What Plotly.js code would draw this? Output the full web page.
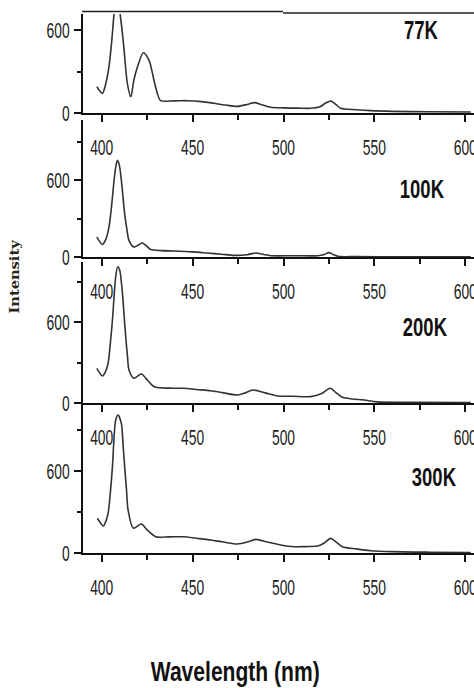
<!DOCTYPE html>
<html><head><meta charset="utf-8">
<script src="https://cdn.plot.ly/plotly-3.0.1.min.js"></script>
<style>html,body{margin:0;padding:0;background:#fff}</style>
</head><body><div id="chart" style="width:474px;height:688px"></div>
<script>
// ---- data ----
const wl77 = [397.3,400.4,402,404,405.5,406.8,408.5,410,411.2,412.3,414.1,416,417.7,420,422.9,426,428.7,430.6,432.4,440,447,455,461.7,468,474.7,480,483.9,488,493,500,508,515,520,523,526,529,531.5,540,548,560,580,603];
const int77 = [190,142,200,335,520,720,920,730,600,455,215,118,239,347,436,383,239,142,89,88,89,82,70,58,48,62,75,60,41,37,35,34,45,70,87,60,34,24,17,12,9,7];

const wl100 = [397.3,400.4,402.3,404,405.5,406.8,407.8,408.6,409.5,410.4,411.5,412.6,413.8,415,417.7,420,422.3,424.5,427,433,439.7,450,458,466,472.5,480,484.8,489,493,505,519,522.5,525,527.5,530,540,560,603];
const int100 = [156,99,140,235,410,600,710,756,730,652,500,339,220,130,78,92,110,88,58,50,47,40,31,22,13,18,31,20,10,10,10,20,34,18,5,3,2,2];

const wl200 = [397.3,400.4,402,403.5,405,405.9,407.7,408.8,409.8,411.4,412.3,413.2,414.2,415,417.7,421.8,425.1,427.5,429.7,437,445.2,452,459.9,467,474.7,479,483,490,496.7,505,515,521,525.6,529,532.4,538,544.3,551.6,570,603];
const int200 = [257,200,230,294,480,615,936,1010,990,813,650,491,340,244,183,215,170,135,116,110,109,100,91,75,59,75,96,75,52,50,47,70,109,75,42,30,22,8,5,3];

const wl300 = [397.6,400.9,402.2,403.5,404.8,405.9,407.7,409,410.8,411.7,412.6,413.6,414.5,417.4,421.8,425.1,429.7,437,445.2,452,459.9,467,474.7,480,484.8,491,498.5,505.9,512,518.7,522,526,529,532.4,540,548,560,580,603];
const int300 = [254,198,230,290,450,632,974,1010,949,800,632,470,315,181,212,168,119,118,119,108,95,80,66,80,100,80,59,46,47,51,70,107,80,46,30,17,10,6,4];

const panelLabels = ["77K","100K","200K","300K"];
const labelX = [575.5, 576, 577.7, 582.6];
const labelY = [600, 529, 563, 556];
const yTops = [716, 1071, 1045, 1083];
const xTitle = "Wavelength (nm)";
const yTitle = "Intensity";

// ---- layout helpers ----
const W = 474, H = 688;
const boxes = [[14,113],[120,257],[262,403],[405,553]]; // pixel top/bottom
const series = [[wl77,int77],[wl100,int100],[wl200,int200],[wl300,int300]];
const sans = "'Liberation Sans',Arial,sans-serif";
const tickFont = {family:sans, size:22, color:'#222'};
const labFont = {family:sans, size:25, color:'#111', weight:'bold'};

const data = [];
const layout = {
  width: W, height: H,
  margin: {l:0, r:0, t:0, b:0},
  paper_bgcolor: '#fff', plot_bgcolor: 'rgba(0,0,0,0)',
  showlegend: false,
  annotations: [], shapes: []
};

series.forEach((s, i) => {
  const n = i === 0 ? '' : String(i+1);
  data.push({
    x: s[0], y: s[1], type: 'scatter', mode: 'lines',
    xaxis: 'x' + n, yaxis: 'y' + n,
    line: {color:'#333', width:1.6, shape:'spline', smoothing:0.8},
    hoverinfo: 'skip'
  });
  const [top, bot] = boxes[i];
  layout['xaxis' + n] = {
    domain: [83/W, 1], anchor: 'y' + n,
    range: [389.7, 604.8], showline: true, linewidth: 2, linecolor: '#111',
    ticks: 'outside', ticklen: 7, tickwidth: 2, tickcolor: '#111',
    tick0: 0, dtick: 50, ticklabelstandoff: 7, ticklabeloverflow: 'allow',
    minor: {ticks:'outside', ticklen:5, tickwidth:2, tickcolor:'#111', dtick:25, showgrid:false},
    showgrid: false, zeroline: false, tickfont: tickFont, fixedrange: true
  };
  layout['yaxis' + n] = {
    domain: [1 - bot/H, 1 - top/H], anchor: 'x' + n,
    range: [0, yTops[i]], showline: true, linewidth: 2, linecolor: '#111',
    ticks: 'outside', ticklen: 7, tickwidth: 2, tickcolor: '#111',
    tick0: 0, dtick: 600, ticklabeloverflow: 'allow',
    minor: {ticks:'outside', ticklen:4, tickwidth:2, tickcolor:'#111', dtick:300, showgrid:false},
    showgrid: false, zeroline: false, tickfont: tickFont, fixedrange: true
  };
  layout.annotations.push({
    text: panelLabels[i], x: labelX[i], y: labelY[i],
    xref: 'x' + n, yref: 'y' + n, showarrow: false,
    font: labFont, xanchor: 'center', yanchor: 'middle'
  });
});

layout.annotations.push({
  text: xTitle, xref:'paper', yref:'paper', x: 235/W, y: 1 - 672/H,
  showarrow:false, xanchor:'center', yanchor:'middle',
  font:{family:sans, size:27, color:'#111', weight:'bold'}
});
layout.annotations.push({
  text: yTitle, xref:'paper', yref:'paper', x: 15/W, y: 1 - 277/H,
  showarrow:false, xanchor:'center', yanchor:'middle', textangle:-90,
  font:{family:"'DejaVu Serif',serif", size:12, color:'#2a2418', weight:'bold'}
});

layout.shapes.push({type:'line', xref:'paper', yref:'paper', x0:82/W, x1:283/W, y0:1-11.5/H, y1:1-11.5/H, line:{color:'#222', width:1.5}});
layout.shapes.push({type:'line', xref:'paper', yref:'paper', x0:283/W, x1:1, y0:1-13/H, y1:1-13/H, line:{color:'#222', width:1.5}});

const gdiv = document.getElementById('chart');
// condensed look of the original lettering (text stays real text)
function squeeze(el, f) {
  if (el.getAttribute('data-sq') === el.textContent) return;
  el.removeAttribute('textLength');
  const L = el.getComputedTextLength();
  if (L > 0) {
    el.setAttribute('textLength', (L * f).toFixed(1));
    el.setAttribute('lengthAdjust', 'spacingAndGlyphs');
    el.setAttribute('data-sq', el.textContent);
  }
}
function squeezeAll() {
  gdiv.querySelectorAll('.xaxislayer-above text, .yaxislayer-above text').forEach(t => squeeze(t, 0.63));
  gdiv.querySelectorAll('.annotation-text').forEach(t => {
    const s = t.textContent;
    if (s === xTitle) squeeze(t, 0.78);
    else if (s === yTitle) squeeze(t, 1.22);
    else squeeze(t, 0.74);
  });
}
Plotly.newPlot(gdiv, data, layout, {staticPlot:true, displayModeBar:false}).then(() => {
  squeezeAll();
  gdiv.on('plotly_afterplot', squeezeAll);
  requestAnimationFrame(squeezeAll);
  [0, 50, 150, 400, 1000].forEach(ms => setTimeout(squeezeAll, ms));
});
</script></body></html>
